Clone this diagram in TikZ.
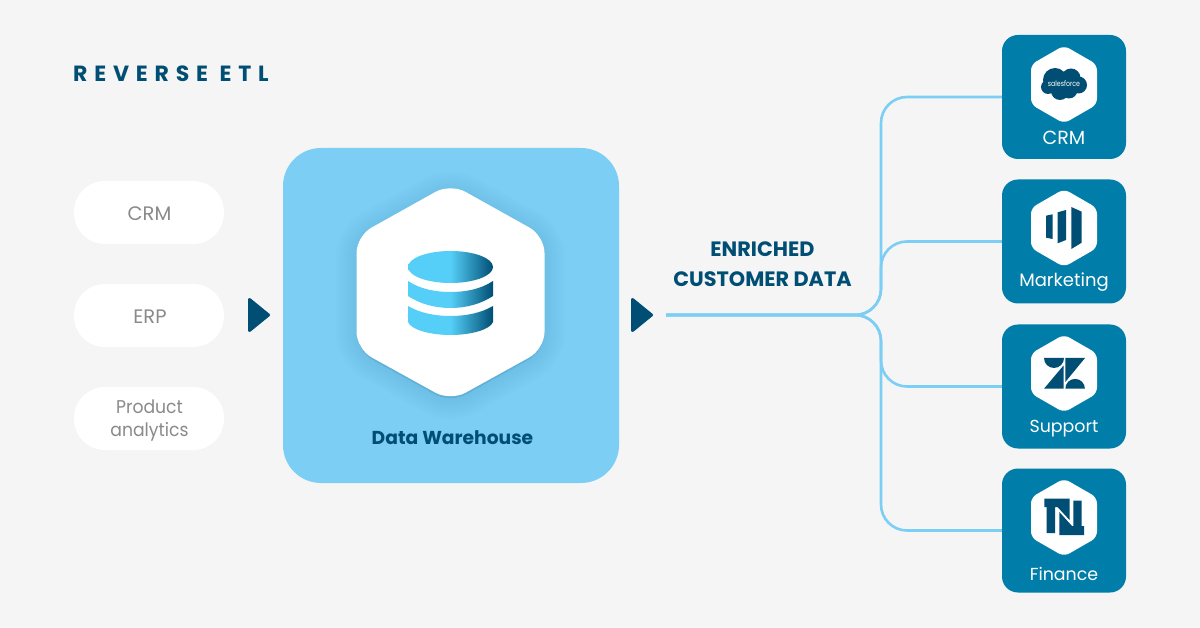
\documentclass[tikz,border=0pt]{standalone}
\usepackage{fontspec}
\setmainfont{Poppins}
\usetikzlibrary{calc}
\definecolor{bgc}{HTML}{F5F5F5}
\definecolor{sky}{HTML}{7CCEF4}
\definecolor{navy}{HTML}{004E74}
\definecolor{teal}{HTML}{007DA8}
\definecolor{greytxt}{HTML}{8A8A8A}
\definecolor{cyl}{HTML}{55CFF8}
\pgfdeclarehorizontalshading{cylshade}{100bp}{color(0bp)=(cyl); color(25bp)=(cyl); color(50bp)=(cyl); color(75bp)=(navy); color(100bp)=(navy)}
\tikzset{
  pill/.style={fill=white,rounded corners=31pt,minimum width=150pt,minimum height=63pt,inner sep=0pt},
  pilltext/.style={text=greytxt,font=\fontsize{19.5}{23}\selectfont,inner sep=0pt,align=center,anchor=base},
  card/.style={fill=teal,rounded corners=16pt,minimum width=124pt,minimum height=124pt,inner sep=0pt},
  cardlabel/.style={text=white,font=\fontsize{18}{22}\selectfont,inner sep=0pt,anchor=base},
  link/.style={draw=sky,line width=2.6pt,rounded corners=26pt},
  playmark/.style={fill=navy,draw=navy,line width=3pt,line join=round},
  logo/.style={fill=navy},
  heading/.style={text=navy,font=\fontsize{20.8}{30}\fontseries{sb}\selectfont,inner sep=0pt,align=center}
}
\newcommand{\hexagon}[2]{% center x, center y
  \fill[white,rounded corners=6pt] (#1,#2-39) -- (#1+33,#2-20) -- (#1+33,#2+20) -- (#1,#2+39) -- (#1-33,#2+20) -- (#1-33,#2-20) -- cycle;}
\begin{document}
\begin{tikzpicture}[x=1pt,y=-1pt]
\useasboundingbox (0,0) rectangle (1200,628);
\fill[bgc] (0,0) rectangle (1200,628);
\node[text=navy,anchor=west,inner sep=0pt,font=\fontsize{22}{26}\fontseries{sb}\selectfont] (title) at (73,74) {\addfontfeature{LetterSpace=31}REVERSE ETL};
% sources
\node[pill] (src1) at (149,212.5) {};
\node[pill] (src2) at (149,315.5) {};
\node[pill] (src3) at (149,418.5) {};
\node[pilltext] (t1) at (149.5,221) {CRM};
\node[pilltext] (t2) at (150,324) {ERP};
\node[text=greytxt,inner sep=0pt,align=center,font=\fontsize{18.5}{23}\selectfont] (t3) at (149.5,421) {\addfontfeature{FakeStretch=0.93}Product\\\addfontfeature{FakeStretch=0.93}analytics};
% play marks
\fill[playmark] (249.5,299.5) -- (268.5,315) -- (249.5,330.5) -- cycle;
\fill[playmark] (632.5,299.5) -- (651.5,315) -- (632.5,330.5) -- cycle;
% warehouse
\node[fill=sky,rounded corners=38pt,minimum width=336pt,minimum height=335pt,inner sep=0pt] (dw) at (451,315.5) {};
\foreach \i in {1,...,14}{
  \fill[navy,opacity=0.008,rounded corners=18pt,line join=round,draw=navy,draw opacity=0.008,line width=\i*3pt]
    (450.5,188) -- (544,239) -- (544,351) -- (450.5,403) -- (357,351) -- (357,239) -- cycle;}
\fill[white,rounded corners=17pt] (450.5,183.5) -- (544.5,236) -- (544.5,349) -- (450.5,401) -- (356.5,349) -- (356.5,236) -- cycle;
\node[text=navy,font=\fontsize{18.7}{22}\fontseries{sb}\selectfont,inner sep=0pt] (dwlabel) at (452.5,438) {Data Warehouse};
% cylinder
\shade[shading=cylshade] (450.5,267) ellipse [x radius=42.5,y radius=16];
\shade[shading=cylshade] (408,281) .. controls (420,289) and (435,292) .. (450.5,292) .. controls (466,292) and (481,289) .. (493,281) -- (493,296) .. controls (481,304) and (466,308) .. (450.5,308) .. controls (435,308) and (420,304) .. (408,296) -- cycle;
\shade[shading=cylshade] (408,306) .. controls (420,313) and (435,316) .. (450.5,316) .. controls (466,316) and (481,313) .. (493,306) -- (493,322) .. controls (490,330) and (470,335) .. (450.5,335) .. controls (431,335) and (411,330) .. (408,322) -- cycle;
% heading
\node[heading] (enrich) at (762.5,264.5) {ENRICHED\\CUSTOMER DATA};
% cards
\node[card] (c1) at (1064,97) {};
\node[card] (c2) at (1064,241.5) {};
\node[card] (c3) at (1064,386.5) {};
\node[card] (c4) at (1064,530.5) {};
\coordinate (start) at (666,315);
\coordinate (hub) at (881,315);
% connectors
\draw[link] (start) -- (hub) -- (hub |- c1) -- (c1.west);
\draw[link] (start) -- (hub) -- (hub |- c2) -- (c2.west);
\draw[link] (start) -- (hub) -- (hub |- c3) -- (c3.west);
\draw[link] (start) -- (hub) -- (hub |- c4) -- (c4.west);
% hexagons
\hexagon{1064}{84.5}
\hexagon{1064}{228}
\hexagon{1064}{373.5}
\hexagon{1064}{517.5}
% salesforce
\fill[logo] (1055,80) circle (12) (1048,87) circle (7) (1071,78) circle (9.5) (1078.5,85) circle (8.5) (1060,91) circle (9) (1069,90) circle (8.5);
\node[text=white,inner sep=0pt,font=\fontsize{7.6}{9}\fontseries{m}\selectfont] (sf) at (1064,83.5) {\addfontfeature{FakeStretch=0.82}salesforce};
% marketo
\fill[logo] (1046,215.7) -- (1052.7,214.3) -- (1052.7,239) -- (1046,237.7) -- cycle;
\fill[logo] (1057.7,212.3) -- (1066,210) -- (1066,240) -- (1057.7,243.3) -- cycle;
\fill[logo] (1071.3,207) -- (1081.7,211.7) -- (1081.7,242.7) -- (1071.3,249) -- cycle;
% zendesk
\fill[logo] (1044,358) arc [start angle=180,end angle=360,x radius=10,y radius=-10] -- cycle;
\fill[logo] (1065.3,358) -- (1085,358) -- (1065.3,382) -- cycle;
\fill[logo] (1044,388.7) -- (1063.5,365.5) -- (1063.5,388.7) -- cycle;
\fill[logo] (1065.3,388.7) arc [start angle=180,end angle=0,x radius=9.8,y radius=-9.8] -- cycle;
% netsuite
\fill[logo] (1044.3,498.5) -- (1069.5,498.5) -- (1069.5,520) -- (1057.5,507) -- (1055,507) -- (1055,533) -- (1046.5,533) -- (1046.5,507) -- (1044.3,507) -- cycle;
\fill[logo] (1084,535) -- (1059.3,535) -- (1059.3,512) -- (1072,526) -- (1073.3,526) -- (1073.3,500.5) -- (1081.7,500.5) -- (1081.7,526) -- (1084,526) -- cycle;
% card labels
\node[cardlabel] (l1) at (1064,145) {\fontsize{19}{22}\selectfont CRM};
\node[cardlabel] (l2) at (1064,286.5) {Marketing};
\node[cardlabel] (l3) at (1064,432.3) {\fontsize{17.4}{22}\selectfont Support};
\node[cardlabel] (l4) at (1064,580) {\fontsize{17.4}{22}\selectfont Finance};
\end{tikzpicture}
\end{document}
